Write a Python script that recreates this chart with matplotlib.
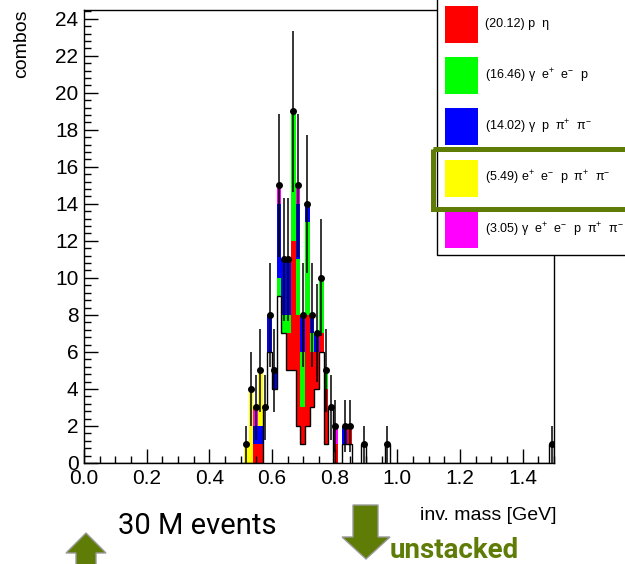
#stacked combos vs inv. mass, root style
import numpy as np
import matplotlib
matplotlib.use("Agg")
import matplotlib.pyplot as plt
from matplotlib.patches import Rectangle, Polygon
from matplotlib.ticker import MultipleLocator, FormatStrFormatter

plt.rcParams['font.family'] = ['Liberation Sans', 'DejaVu Sans']
plt.rcParams['mathtext.fontset'] = 'custom'
plt.rcParams['mathtext.rm'] = 'Liberation Sans'
plt.rcParams['mathtext.it'] = 'Liberation Sans:italic'

bin_width = 0.015
n_bins = 100
# lower edges of the filled bins [GeV]
bin_lo = [0.510, 0.525, 0.540, 0.555, 0.570, 0.585, 0.600, 0.615, 0.630, 0.645,
          0.660, 0.675, 0.690, 0.705, 0.720, 0.735, 0.750, 0.765, 0.780, 0.795,
          0.810, 0.825, 0.840, 0.885, 0.960, 1.485]

other   = [0, 0, 0, 0, 3, 6, 4, 9, 7, 5, 5, 2, 1, 2, 3, 4, 6, 1, 3, 0, 0, 1, 1, 1, 1, 1]
p_eta   = [0, 0, 1, 1, 0, 0, 0, 0, 0, 2, 7, 6, 2, 6, 3, 2, 1, 3, 0, 1, 0, 0, 1, 0, 0, 0]
g_eep   = [0, 0, 0, 0, 0, 0, 0, 1, 1, 1, 7, 3, 3, 5, 1, 0, 3, 1, 0, 0, 0, 0, 0, 0, 0, 0]
g_ppipi = [0, 0, 1, 1, 0, 2, 1, 4, 3, 3, 0, 3, 2, 1, 1, 1, 0, 0, 0, 0, 0, 1, 0, 0, 0, 0]
eep_pipi = [1, 4, 0, 3, 0, 0, 0, 0, 0, 0, 0, 0, 0, 0, 0, 0, 0, 0, 0, 0, 0, 0, 0, 0, 0, 0]
geep_pipi = [0, 0, 1, 0, 0, 0, 0, 1, 0, 0, 0, 1, 0, 0, 0, 0, 0, 0, 0, 1, 0, 0, 0, 0, 0, 0]

channels = [p_eta, g_eep, g_ppipi, eep_pipi, geep_pipi]
colors = ['#ff0000', '#00ff00', '#0000ff', '#ffff00', '#ff00ff']
labels = ['(20.12) p  η',
          '(16.46) γ  e$^{+}$  e$^{-}$  p',
          '(14.02) γ  p  π$^{+}$  π$^{-}$',
          '(5.49) e$^{+}$  e$^{-}$  p  π$^{+}$  π$^{-}$',
          '(3.05) γ  e$^{+}$  e$^{-}$  p  π$^{+}$  π$^{-}$']

W, H = 625, 564
fig = plt.figure(figsize=(W / 100, H / 100), dpi=100)
ax = fig.add_axes([84 / W, 1 - 463 / H, 470 / W, 453.5 / H])

edges = np.arange(n_bins + 1) * bin_width
idx = np.rint(np.array(bin_lo) / bin_width).astype(int)

def full(vals):
    h = np.zeros(n_bins)
    h[idx] = vals
    return h

# stacked: white "other" at the bottom, then the channels
bottom = full(other)
ax.stairs(bottom, edges, fill=True, color='white')
for vals, col in zip(channels, colors):
    h = full(vals)
    ax.stairs(bottom + h, edges, baseline=bottom, fill=True, color=col, lw=0)
    bottom = bottom + h
ax.stairs(full(other), edges, color='black', lw=1)

total = bottom
centers = edges[:-1] + bin_width / 2
m = total > 0
ax.errorbar(centers[m], total[m], yerr=np.sqrt(total[m]), fmt='o', color='black',
            ms=4, elinewidth=1.1, capsize=0, zorder=5)

ax.set_xlim(0, 1.5)
ax.set_ylim(0, 24.5)
ax.xaxis.set_major_locator(MultipleLocator(0.2))
ax.xaxis.set_minor_locator(MultipleLocator(0.05))
ax.xaxis.set_major_formatter(FormatStrFormatter('%.1f'))
ax.yaxis.set_major_locator(MultipleLocator(2))
ax.yaxis.set_minor_locator(MultipleLocator(0.4))
ax.tick_params(which='both', direction='in', top=False, right=False, labelsize=15, pad=4)
ax.tick_params(which='major', length=10, width=1)
ax.tick_params(which='minor', length=5, width=1)
for s in ax.spines.values():
    s.set_linewidth(1)

# overlay in pixel coords for legend and annotations
ov = fig.add_axes([0, 0, 1, 1], zorder=10)
ov.set_xlim(0, W)
ov.set_ylim(H, 0)
ov.axis('off')

ov.text(22, 10, 'combos', rotation=90, ha='center', va='top', fontsize=14)
ov.text(556, 515, 'inv. mass [GeV]', ha='right', va='center', fontsize=14)

ov.add_patch(Rectangle((437, -5), 200, 260, facecolor='white', edgecolor='black', lw=1))
ys = [24.5, 75.5, 126.5, 178, 229.5]
for y, col, lab in zip(ys, colors, labels):
    ov.add_patch(Rectangle((445, y - 18.5), 33, 37, facecolor=col, edgecolor='none'))
    ov.text(485, y, lab, ha='left', va='center', fontsize=9)

olive = '#5e7c06'
ov.add_patch(Rectangle((433, 149), 200, 60, facecolor='none', edgecolor=olive, lw=3.6))

ov.add_patch(Polygon([(353, 505), (378, 505), (378, 537), (390, 537), (366, 559),
                      (342, 537), (353, 537)], closed=True, facecolor=olive,
                     edgecolor='#9a9a9a', lw=1))
ov.add_patch(Polygon([(86, 533), (106, 553), (96, 553), (96, 570), (76, 570),
                      (76, 553), (66, 553)], closed=True, facecolor=olive,
                     edgecolor='#9a9a9a', lw=1))

ov.text(118, 526, '30 M events', ha='left', va='center', fontsize=21,
        family=['Roboto', 'DejaVu Sans'])
ov.text(390, 550, 'unstacked', ha='left', va='center', fontsize=20,
        family=['Roboto', 'DejaVu Sans'], fontweight='bold', color=olive)

fig.savefig('out.png', dpi=100)
